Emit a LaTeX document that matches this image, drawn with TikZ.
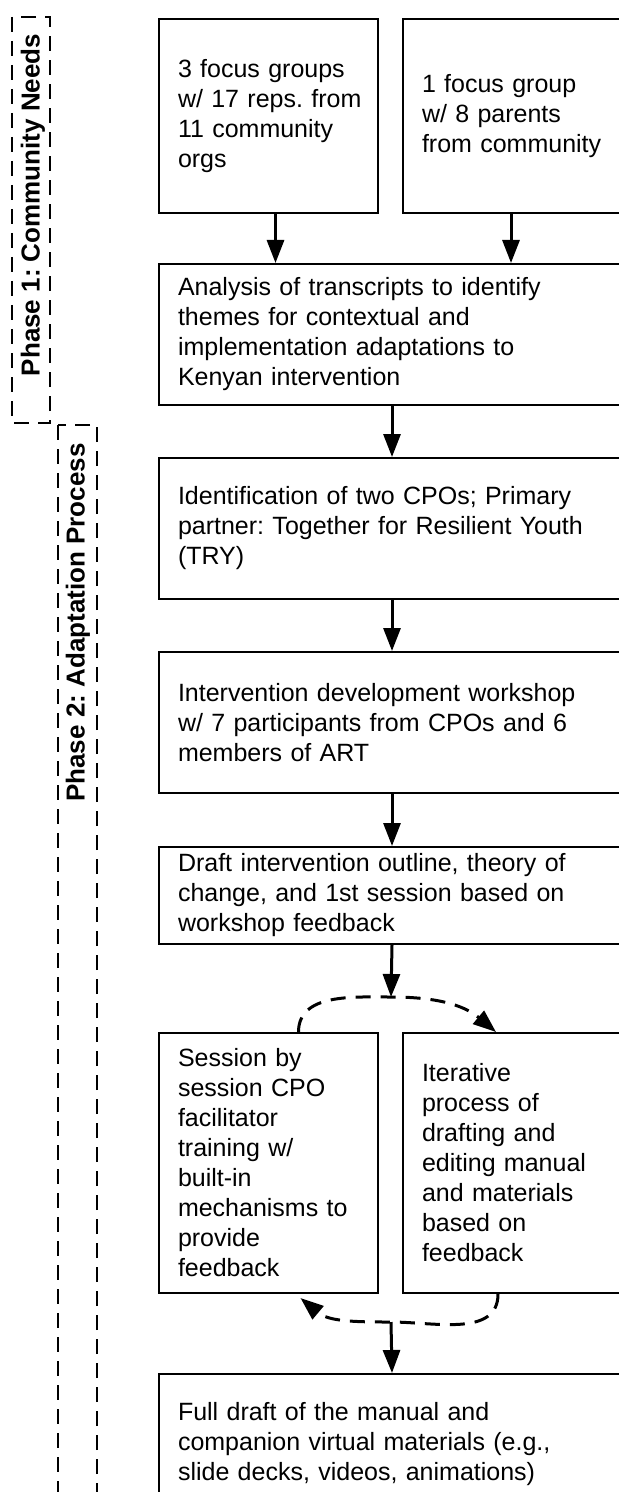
\documentclass[tikz,border=0pt]{standalone}
\usepackage{fontspec}
\setmainfont{Liberation Sans}
\usetikzlibrary{arrows.meta}
\frenchspacing
\begin{document}
\begin{tikzpicture}[x=0.5pt,y=-0.5pt,
  box/.style={draw,line width=1pt,anchor=north west,align=left,inner xsep=9.5pt,
    font=\fontsize{12.5pt}{15pt}\selectfont},
  narrow/.style={box,text width=90.5pt,minimum height=#1},
  rnarrow/.style={box,text width=92pt,minimum height=#1},
  wide/.style={box,text width=214pt,minimum height=#1},
  flow/.style={line width=1.5pt,-{Triangle[length=11.5pt,width=8.5pt]}},
  loop/.style={flow,dash pattern=on 7.5pt off 5pt},
  phase/.style={line width=1pt,dash pattern=on 7.5pt off 4.5pt},
  phaselabel/.style={rotate=90,inner sep=0pt,font=\fontsize{13pt}{15pt}\selectfont\bfseries}]
\useasboundingbox (0,0) rectangle (618,1492);
\draw[phase] (12,17) rectangle (50,423);
\draw[phase] (58,425) rectangle (97,1530);
\node[phaselabel] (needs) at (33,205) {Phase 1: Community Needs};
\node[phaselabel,anchor=east] (adapt) at (78,443) {Phase 2: Adaptation Process};
\node[narrow=97pt] (orgs) at (158,18) {3 focus groups\\\mbox{w/ 17 reps. from}\\11 community\\orgs};
\node[rnarrow=97pt] (parents) at (402,18) {1 focus group\\w/ 8 parents\\\mbox{from community}};
\node[wide=70.5pt] (analysis) at (158,263) {Analysis of transcripts to identify\\themes for contextual and\\implementation adaptations to\\Kenyan intervention};
\node[wide=70.5pt] (cpos) at (158,457) {Identification of two CPOs; Primary\\partner: Together for Resilient Youth\\(TRY)};
\node[wide=70.5pt] (workshop) at (158,651) {Intervention development workshop\\w/ 7 participants from CPOs and 6\\members of ART};
\node[wide=48.5pt] (outline) at (158,846) {Draft intervention outline, theory of\\change, and 1st session based on\\workshop feedback};
\node[narrow=130pt] (training) at (158,1032) {Session by\\session CPO\\facilitator\\training w/\\built-in\\\mbox{mechanisms to}\\provide\\feedback};
\node[rnarrow=130pt] (drafting) at (402,1032) {Iterative\\process of\\drafting and\\\mbox{editing manual}\\and materials\\based on\\feedback};
\node[wide=70.5pt] (fulldraft) at (158,1373) {Full draft of the manual and\\companion virtual materials (e.g.,\\slide decks, videos, animations)};
\coordinate (looptop) at (391,997);
\coordinate (loopbot) at (391,1322);
\draw[flow] ([xshift=3.5pt]orgs.south) -- ([xshift=3.5pt]orgs.south |- analysis.north);
\draw[flow] ([xshift=-1.5pt]parents.south) -- ([xshift=-1.5pt]parents.south |- analysis.north);
\draw[flow] (analysis.south) -- (cpos.north);
\draw[flow] (cpos.south) -- (workshop.north);
\draw[flow] (workshop.south) -- (outline.north);
\draw[flow] (outline.south) -- (looptop);
\draw[loop] ([xshift=15pt]training.north) to[out=90,in=180] (looptop) to[out=0,in=140] ([xshift=-9pt]drafting.north);
\draw[loop] ([xshift=-8pt]drafting.south) to[out=-90,in=0] (loopbot) to[out=180,in=-40] ([xshift=16pt,yshift=-2pt]training.south);
\draw[flow] (loopbot) -- (fulldraft.north);
\end{tikzpicture}
\end{document}
